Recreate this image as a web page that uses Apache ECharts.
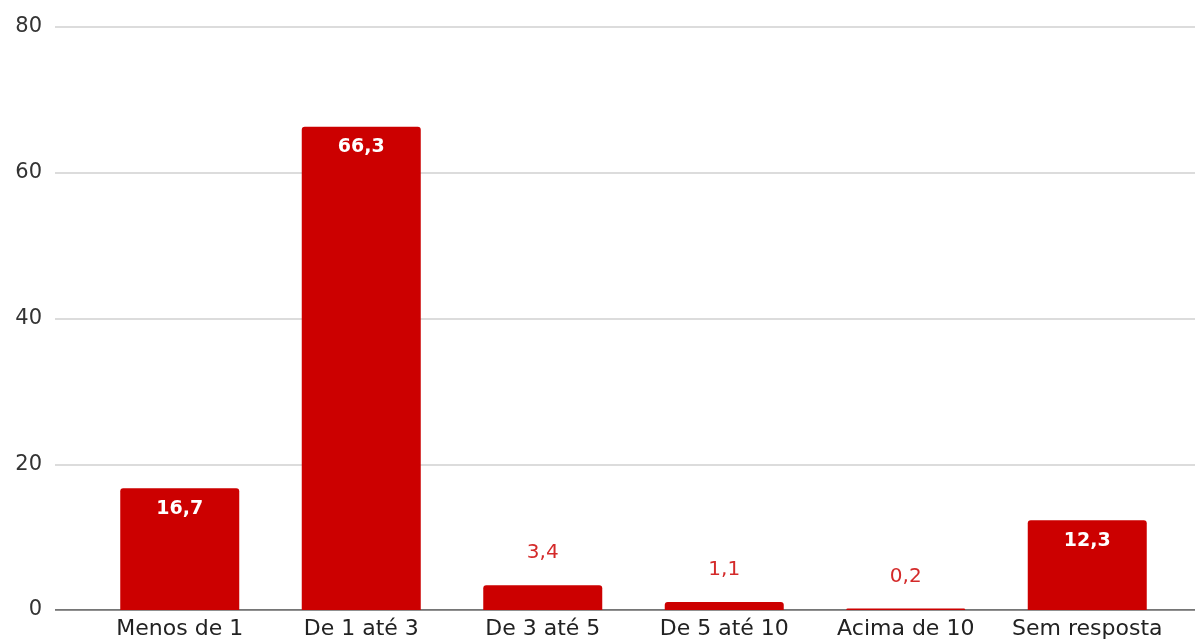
<!DOCTYPE html>
<html>
<head>
<meta charset="utf-8">
<style>
  html, body { margin: 0; padding: 0; background: #fff; }
  #chart { width: 1195px; height: 642px; }
</style>
<script src="https://cdn.jsdelivr.net/npm/echarts@6/dist/echarts.min.js"></script>
</head>
<body>
<div id="chart"></div>
<script>
// Faixas de tempo e percentuais de respostas
const categories = ['Menos de 1', 'De 1 até 3', 'De 3 até 5', 'De 5 até 10', 'Acima de 10', 'Sem resposta'];
const values = [16.7, 66.3, 3.4, 1.1, 0.2, 12.3];
const yTicks = [0, 20, 40, 60, 80];

const RED = '#cc0000';
const FONT = 'DejaVu Sans, Verdana, sans-serif';
const fmt = v => String(v).replace('.', ',');

// Tall bars carry their value inside in white, short ones above in red
const barData = values.map(v => {
  const inside = v >= 10;
  return {
    value: v,
    label: inside
      ? { position: 'insideTop', distance: 11, color: '#ffffff', fontWeight: 'bold', fontSize: 19 }
      : { position: 'top', distance: 22, color: '#d42a2a', fontWeight: 'normal', fontSize: 20 }
  };
});

const chart = echarts.init(document.getElementById('chart'));
chart.setOption({
  animation: false,
  backgroundColor: '#ffffff',
  grid: [
    // frame for gridlines and the zero line
    { left: 55, right: 0, top: 27, bottom: 32 },
    // frame for the bars and category labels
    { left: 89, right: 17, top: 27, bottom: 32 }
  ],
  xAxis: [
    { gridIndex: 0, type: 'value', show: false, min: 0, max: 1 },
    {
      gridIndex: 1,
      type: 'category',
      data: categories,
      axisLine: { show: false },
      axisTick: { show: false },
      axisLabel: { color: '#222', fontSize: 22, fontFamily: FONT, margin: 8, interval: 0 }
    }
  ],
  yAxis: [
    {
      gridIndex: 0,
      type: 'value',
      min: yTicks[0],
      max: yTicks[yTicks.length - 1],
      interval: yTicks[1] - yTicks[0],
      axisLine: { show: false },
      axisTick: { show: false },
      axisLabel: { color: '#333', fontSize: 21, fontFamily: FONT, margin: 13 },
      splitLine: { lineStyle: { color: '#d0d0d0', width: 1.5 } }
    },
    {
      gridIndex: 1,
      type: 'value',
      min: yTicks[0],
      max: yTicks[yTicks.length - 1],
      interval: yTicks[1] - yTicks[0],
      show: false
    }
  ],
  series: [
    {
      // baseline at zero across the full width
      type: 'line',
      xAxisIndex: 0,
      yAxisIndex: 0,
      data: [[0, 0], [1, 0]],
      symbol: 'none',
      lineStyle: { color: '#555', width: 1.5 },
      silent: true,
      z: 1
    },
    {
      type: 'bar',
      xAxisIndex: 1,
      yAxisIndex: 1,
      data: barData,
      barWidth: 119,
      itemStyle: { color: RED, borderRadius: [3, 3, 0, 0] },
      label: {
        show: true,
        fontFamily: FONT,
        formatter: p => fmt(p.value)
      },
      z: 2
    }
  ]
});
</script>
</body>
</html>
